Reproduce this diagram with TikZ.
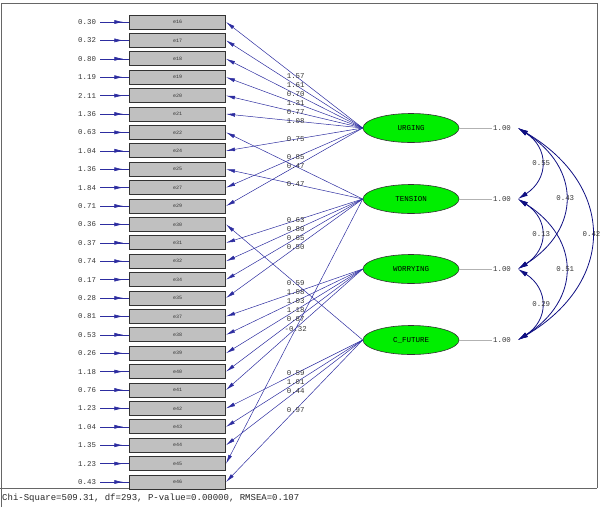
\documentclass[tikz,border=0pt]{standalone}
\usepackage{fontspec}
\setmonofont{Liberation Mono}
\usetikzlibrary{arrows.meta,decorations.markings,shapes.geometric}
\definecolor{lineblue}{RGB}{45,45,160}
\definecolor{navy}{RGB}{15,15,130}
\definecolor{numgray}{RGB}{55,55,55}
\definecolor{boxgray}{RGB}{192,192,192}
\definecolor{latgreen}{RGB}{0,238,0}
\begin{document}
\begin{tikzpicture}[x=1pt,y=-1pt,
  ind/.style={draw=black!80, fill=boxgray, line width=0.9pt, minimum width=96pt, minimum height=14pt, inner sep=0pt, font=\ttfamily\fontsize{5}{5}\selectfont, text=black!80},
  lat/.style={ellipse, draw=black!80, fill=latgreen, line width=0.6pt, minimum width=96pt, minimum height=29pt, inner sep=0pt, font=\ttfamily\fontsize{7.5}{8}\selectfont},
  num/.style={font=\ttfamily\fontsize{7.4}{8}\selectfont, text=numgray, inner sep=1pt},
  errnum/.style={num, anchor=east, outer xsep=3pt},
  load/.style={draw=lineblue, line width=0.5pt, -{Latex[length=9pt,width=3.8pt]}},
  errarr/.style={draw=lineblue, line width=0.6pt, postaction=decorate, decoration={markings, mark=at position 0.8 with {\arrow{Latex[length=9pt,width=4pt]}}}},
  corr/.style={draw=navy, line width=0.8pt, {Latex[length=10pt,width=5pt]}-{Latex[length=10pt,width=5pt]}},
  varline/.style={draw=black!30, line width=0.6pt}
]
\useasboundingbox (0,0) rectangle (600,507);
% frame
\draw[black!60, line width=0.8pt] (1,507) -- (1,3) -- (597,3) -- (597,488);
\draw[black!60, line width=0.8pt] (0,488) -- (597,488);
\node[font=\ttfamily\fontsize{9}{10}\selectfont, anchor=west, inner sep=0pt, text=black!85] (stat) at (2,498) {Chi-Square=509.31, df=293, P-value=0.00000, RMSEA=0.107};

% indicators
\foreach \lab/\err [count=\i] in {e16/0.30,e17/0.32,e18/0.80,e19/1.19,e20/2.11,e21/1.36,e22/0.63,e24/1.04,e25/1.36,e27/1.84,e29/0.71,e30/0.36,e31/0.37,e32/0.74,e34/0.17,e35/0.28,e37/0.81,e38/0.53,e39/0.26,e40/1.18,e41/0.76,e42/1.23,e43/1.04,e44/1.35,e45/1.23,e46/0.43}{
  \pgfmathsetmacro\yy{22+(\i-1)*18.4}
  \node[ind] (b\i) at (177.6,\yy) {\lab};
  \node[errnum] (r\i) at (100,\yy) {\err};
  \draw[errarr] (r\i.east) -- (b\i.west);
}

% latent variables
\node[lat] (U) at (411,128) {URGING};
\node[lat] (T) at (411,199) {TENSION};
\node[lat] (W) at (411,269) {WORRYING};
\node[lat] (C) at (411,340) {C\_FUTURE};

% loadings
\foreach \r/\v in {1/1.57,2/1.61,3/0.70,4/1.31,5/0.77,6/1.08,8/0.75,10/0.85,11/0.47}
  \draw[load] (U.west) -- node[num,pos=0.49]{\v} (b\r.east);
\draw[load] (T.west) -- (b7.east);
\foreach \r/\v in {9/0.47,13/0.63,14/0.80,15/0.65,16/0.50,25/-0.32}
  \draw[load] (T.west) -- node[num,pos=0.49]{\v} (b\r.east);
\foreach \r/\v in {17/1.08,18/1.03,19/1.18,20/0.87}
  \draw[load] (W.west) -- node[num,pos=0.49]{\v} (b\r.east);
\draw[load] (W.west) -- (b21.east);
\foreach \r/\v in {12/0.59,22/0.59,23/1.01,24/0.44,26/0.97}
  \draw[load] (C.west) -- node[num,pos=0.49]{\v} (b\r.east);

% variances
\foreach \n/\yy [count=\k] in {U/128,T/199,W/269,C/340}{
  \node[num] (v\k) at (502,\yy) {1.00};
  \draw[varline] (\n.east) -- (v\k.west);
  \coordinate (k\k) at (518,\yy);
}

% correlations
\draw[corr] (k1) .. controls +(31,20) and +(31,-20) .. node[num]{0.55} (k2);
\draw[corr] (k2) .. controls +(31,20) and +(31,-20) .. node[num]{0.13} (k3);
\draw[corr] (k3) .. controls +(31,20) and +(31,-20) .. node[num]{0.29} (k4);
\draw[corr] (k1) .. controls +(63,40) and +(63,-40) .. node[num]{0.43} (k3);
\draw[corr] (k2) .. controls +(63,40) and +(63,-40) .. node[num]{0.51} (k4);
\draw[corr] (k1) .. controls +(98,58) and +(98,-58) .. node[num]{0.42} (k4);
\end{tikzpicture}
\end{document}
